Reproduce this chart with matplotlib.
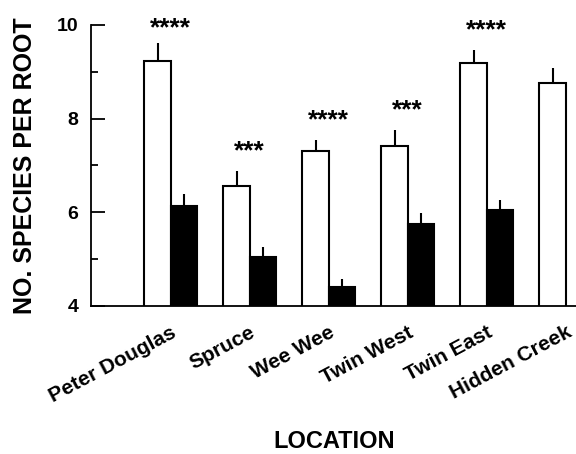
import matplotlib.pyplot as plt
import numpy as np

plt.rcParams['font.family'] = ['Liberation Sans', 'DejaVu Sans']
plt.rcParams['font.weight'] = 'bold'

# species per root at each location (open = first group, filled = second group)
locations = ['Peter Douglas', 'Spruce', 'Wee Wee', 'Twin West', 'Twin East', 'Hidden Creek']
open_means = [9.23, 6.57, 7.30, 7.42, 9.19, 8.77]
open_se = [0.38, 0.32, 0.25, 0.34, 0.28, 0.32]
filled_means = [6.14, 5.05, 4.40, 5.75, 6.05]
filled_se = [0.25, 0.20, 0.17, 0.24, 0.21]
stars = ['****', '***', '****', '***', '****']

fig = plt.figure(figsize=(5.76, 4.54), dpi=100)
ax = fig.add_axes([0.158, 0.326, 0.842, 0.619])

x = np.arange(len(locations))
w = 0.335
xf = x[:len(filled_means)]

ax.bar(x - w / 2, open_means, w, color='white', edgecolor='black', linewidth=1.5,
       yerr=[np.zeros(len(open_se)), open_se], error_kw=dict(elinewidth=1.5, capsize=0, ecolor='black'))
ax.bar(xf + w / 2, filled_means, w, color='black', edgecolor='black', linewidth=1.5,
       yerr=[np.zeros(len(filled_se)), filled_se], error_kw=dict(elinewidth=1.5, capsize=0, ecolor='black'))

# significance stars above each pair
for i, s in enumerate(stars):
    y = min(open_means[i] + open_se[i] + 0.42, 9.93)
    ax.text(x[i], y, s, ha='center', va='center', fontsize=19, fontweight='bold')

ax.set_ylim(4, 10)
ax.set_xlim(-1.01, 5.13)
ax.set_yticks([4, 6, 8, 10])
ax.set_yticks([5, 7, 9], minor=True)
ax.tick_params(axis='y', which='major', direction='in', length=10, width=1.3, pad=9, labelsize=14)
ax.tick_params(axis='y', which='minor', direction='in', length=5, width=1.3)

ax.set_xticks(x)
ax.set_xticklabels(locations, rotation=28, ha='right', va='top', rotation_mode='anchor', fontsize=15)
ax.tick_params(axis='x', length=0, pad=12)

for side in ['top', 'right']:
    ax.spines[side].set_visible(False)
ax.spines['left'].set_linewidth(1.3)
ax.spines['bottom'].set_linewidth(1.3)

ax.set_ylabel('NO. SPECIES PER ROOT', fontsize=18, fontweight='bold')
ax.yaxis.set_label_coords(-0.112, 0.5)
fig.text(0.58, 0.013, 'LOCATION', ha='center', va='baseline', fontsize=17, fontweight='bold')

fig.savefig('out.png', dpi=100)
